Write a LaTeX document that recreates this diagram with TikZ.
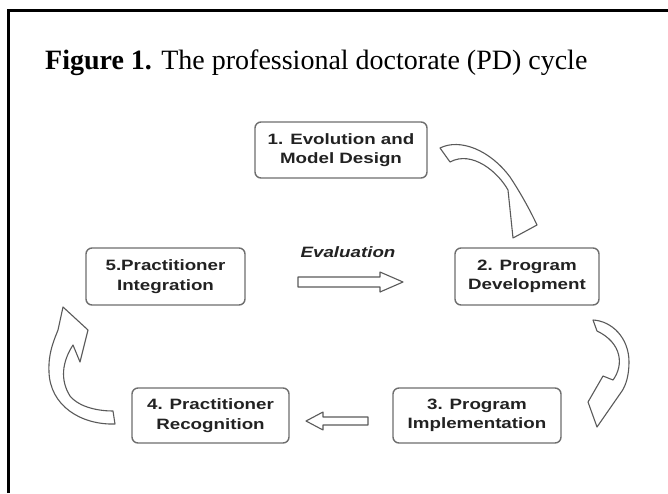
\documentclass[tikz,border=0pt]{standalone}
\usepackage{fontspec}
\setmainfont{Liberation Serif}
\newfontfamily\boxfont[FakeStretch=1.25]{Liberation Sans}
\definecolor{boxgray}{HTML}{6E6E6E}
\definecolor{arrgray}{HTML}{5A5A5A}
\definecolor{boxtext}{HTML}{222222}
\begin{document}
\begin{tikzpicture}[x=1pt,y=-1pt,
  stepbox/.style={draw=boxgray, line width=1.4pt, rounded corners=6pt, fill=white,
    inner sep=0pt, align=center, text=boxtext,
    font=\boxfont\bfseries\fontsize{15}{19.5}\selectfont},
  blockarrow/.style={draw=arrgray, line width=1.1pt, fill=white, line join=round}]
\useasboundingbox (0,0) rectangle (668,493);
\fill[white] (0,0) rectangle (668,493);
% frame
\draw[line width=3pt] (8,493) -- (8,10) -- (668,10);
% title
\node[anchor=base west, inner sep=0pt, font=\fontsize{28}{32}\selectfont] (title) at (45,69)
  {\textbf{Figure 1.} The professional doctorate (PD) cycle};
% boxes
\node[stepbox, minimum width=172pt, minimum height=56pt] (b1) at (341,150) {1. Evolution and\\Model Design};
\node[stepbox, minimum width=144pt, minimum height=57pt] (b2) at (527,276.5) {2. Program\\Development};
\node[stepbox, minimum width=168pt, minimum height=55pt] (b3) at (477,415.5) {3. Program\\Implementation};
\node[stepbox, minimum width=157pt, minimum height=55pt] (b4) at (210.5,415.5) {4. Practitioner\\Recognition};
\node[stepbox, minimum width=159pt, minimum height=57pt] (b5) at (165.5,276.5) {5.Practitioner\\Integration};
% evaluation label
\node[anchor=base, inner sep=0pt, text=boxtext, font=\boxfont\bfseries\itshape\fontsize{15}{18}\selectfont] (evlabel) at (348,257) {Evaluation};
% straight block arrows
\draw[blockarrow] (298,277) -- (380,277) -- (380,272) -- (403,282) -- (380,292) -- (380,287) -- (298,287) -- cycle;
\draw[blockarrow] (368,417) -- (323,417) -- (323,412) -- (306,421) -- (323,430) -- (323,425) -- (368,425) -- cycle;
% curved arrow b1 -> b2
\draw[blockarrow] (440,148) .. controls (460,138) and (490,150) .. (510,177)
  .. controls (520,192) and (530,210) .. (537,225) -- (513,238) -- (508,190)
  .. controls (498,172) and (472,150) .. (450,162) -- cycle;
% curved arrow b2 -> b3
\draw[blockarrow] (593,320) .. controls (612,321) and (629,338) .. (629,362)
  .. controls (629,375) and (626,385) .. (622,391) -- (597,427) -- (588,402) -- (603,376) -- (613,380)
  .. controls (624,365) and (622,343) .. (597,331) -- cycle;
% curved arrow b4 -> b5
\draw[blockarrow] (115,424) .. controls (80,425) and (50,405) .. (49,372)
  .. controls (48,352) and (55,338) .. (58,330) -- (63,307) -- (88,330) -- (80,362) -- (73,345)
  .. controls (62,362) and (60,380) .. (70,396) .. controls (80,408) and (100,411) .. (113,411) -- cycle;
\end{tikzpicture}
\end{document}
